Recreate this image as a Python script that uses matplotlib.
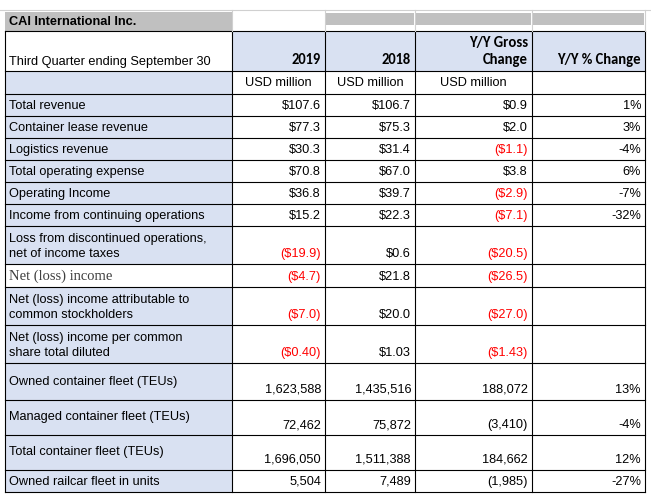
import matplotlib
matplotlib.use("Agg")
import matplotlib.pyplot as plt
from matplotlib.patches import Rectangle

# table contents
labels = ["Total revenue", "Container lease revenue", "Logistics revenue", "Total operating expense",
          "Operating Income", "Income from continuing operations",
          "Loss from discontinued operations,\nnet of income taxes", "Net (loss) income",
          "Net (loss) income attributable to\ncommon stockholders",
          "Net (loss) income per common\nshare total diluted",
          "Owned container fleet (TEUs)", "Managed container fleet (TEUs)",
          "Total container fleet (TEUs)", "Owned railcar fleet in units"]
col_2019 = ["$107.6", "$77.3", "$30.3", "$70.8", "$36.8", "$15.2", "($19.9)", "($4.7)", "($7.0)", "($0.40)",
            "1,623,588", "72,462", "1,696,050", "5,504"]
col_2018 = ["$106.7", "$75.3", "$31.4", "$67.0", "$39.7", "$22.3", "$0.6", "$21.8", "$20.0", "$1.03",
            "1,435,516", "75,872", "1,511,388", "7,489"]
col_gross = ["$0.9", "$2.0", "($1.1)", "$3.8", "($2.9)", "($7.1)", "($20.5)", "($26.5)", "($27.0)", "($1.43)",
             "188,072", "(3,410)", "184,662", "(1,985)"]
col_pct = ["1%", "3%", "-4%", "6%", "-7%", "-32%", "", "", "", "", "13%", "-4%", "12%", "-27%"]

xs = [5, 232, 325, 415, 532, 645]
row_y = [94, 116, 138, 160, 182, 204, 226, 264, 287, 325, 363, 400, 435, 470, 492]
BLUE = "#D9E1F2"
GREY = "#C0C0C0"
body_font = ["Liberation Sans Narrow", "Liberation Sans", "DejaVu Sans"]
head_font = ["Carlito", "Liberation Sans", "DejaVu Sans"]
FS = 9.2

fig = plt.figure(figsize=(6.51, 4.97), dpi=100)
ax = fig.add_axes([0, 0, 1, 1])
ax.set_xlim(0, 651)
ax.set_ylim(497, 0)
ax.axis("off")


def cell(x0, x1, y0, y1, color):
    ax.add_patch(Rectangle((x0, y0), x1 - x0, y1 - y0, facecolor=color, edgecolor="none"))


# title row
cell(xs[0], xs[1], 12, 31, GREY)
for i in range(2, 5):
    cell(xs[i] + 1, xs[i + 1] - 1, 13, 25, GREY)
ax.text(xs[0] + 4, 22, "CAI International Inc.", fontsize=FS, fontweight="bold", family=body_font, va="center")

# header
for i in range(1, 5):
    cell(xs[i], xs[i + 1], 31, 71, BLUE)
ax.text(xs[0] + 4, 62, "Third Quarter ending September 30", fontsize=FS, family=body_font, va="center")
heads = ["2019", "2018", "Y/Y Gross\nChange", "Y/Y % Change"]
for i, h in enumerate(heads):
    ax.text(xs[i + 2] - 4, 67, h, fontsize=10.5, fontweight="bold", family=head_font, ha="right", va="bottom",
            linespacing=1.3)
cell(xs[0], xs[1], 71, 94, BLUE)
for i in range(1, 4):
    ax.text((xs[i] + xs[i + 1]) / 2, 83, "USD million", fontsize=FS, family=body_font, ha="center", va="center")

# body rows
for r, lab in enumerate(labels):
    y0, y1 = row_y[r], row_y[r + 1]
    tall = y1 - y0 > 30
    if lab == "Net (loss) income":
        ax.text(xs[0] + 4, y1 - 4, lab, fontsize=10.5, family=["Liberation Serif", "DejaVu Serif"],
                color="#404040", va="bottom")
    else:
        cell(xs[0], xs[1], y0, y1, BLUE)
        if "\n" in lab:
            ax.text(xs[0] + 4, y1 - 4, lab, fontsize=FS, family=body_font, va="bottom", linespacing=1.3)
        elif tall:
            ax.text(xs[0] + 4, y1 - 12, lab, fontsize=FS, family=body_font, va="bottom")
        else:
            ax.text(xs[0] + 4, (y0 + y1) / 2 + 1, lab, fontsize=FS, family=body_font, va="center")
    for c, vals in enumerate([col_2019, col_2018, col_gross, col_pct]):
        v = vals[r]
        red = v.startswith("($")
        ax.text(xs[c + 2] - 4, y1 - 4, v, fontsize=FS, family=body_font, ha="right", va="bottom",
                color="red" if red else "black")

# grid lines
for y in [31, 71, 94] + row_y[1:]:
    ax.plot([xs[0], xs[-1]], [y, y], color="black", lw=0.8)
for x in xs:
    ax.plot([x, x], [31, 492], color="black", lw=0.8)
for x in xs[1:]:
    ax.plot([x, x], [10, 31], color="#D0D0D0", lw=0.8)
ax.plot([0, 651], [10, 10], color="#D0D0D0", lw=0.8)

fig.savefig("out.png", dpi=100)
